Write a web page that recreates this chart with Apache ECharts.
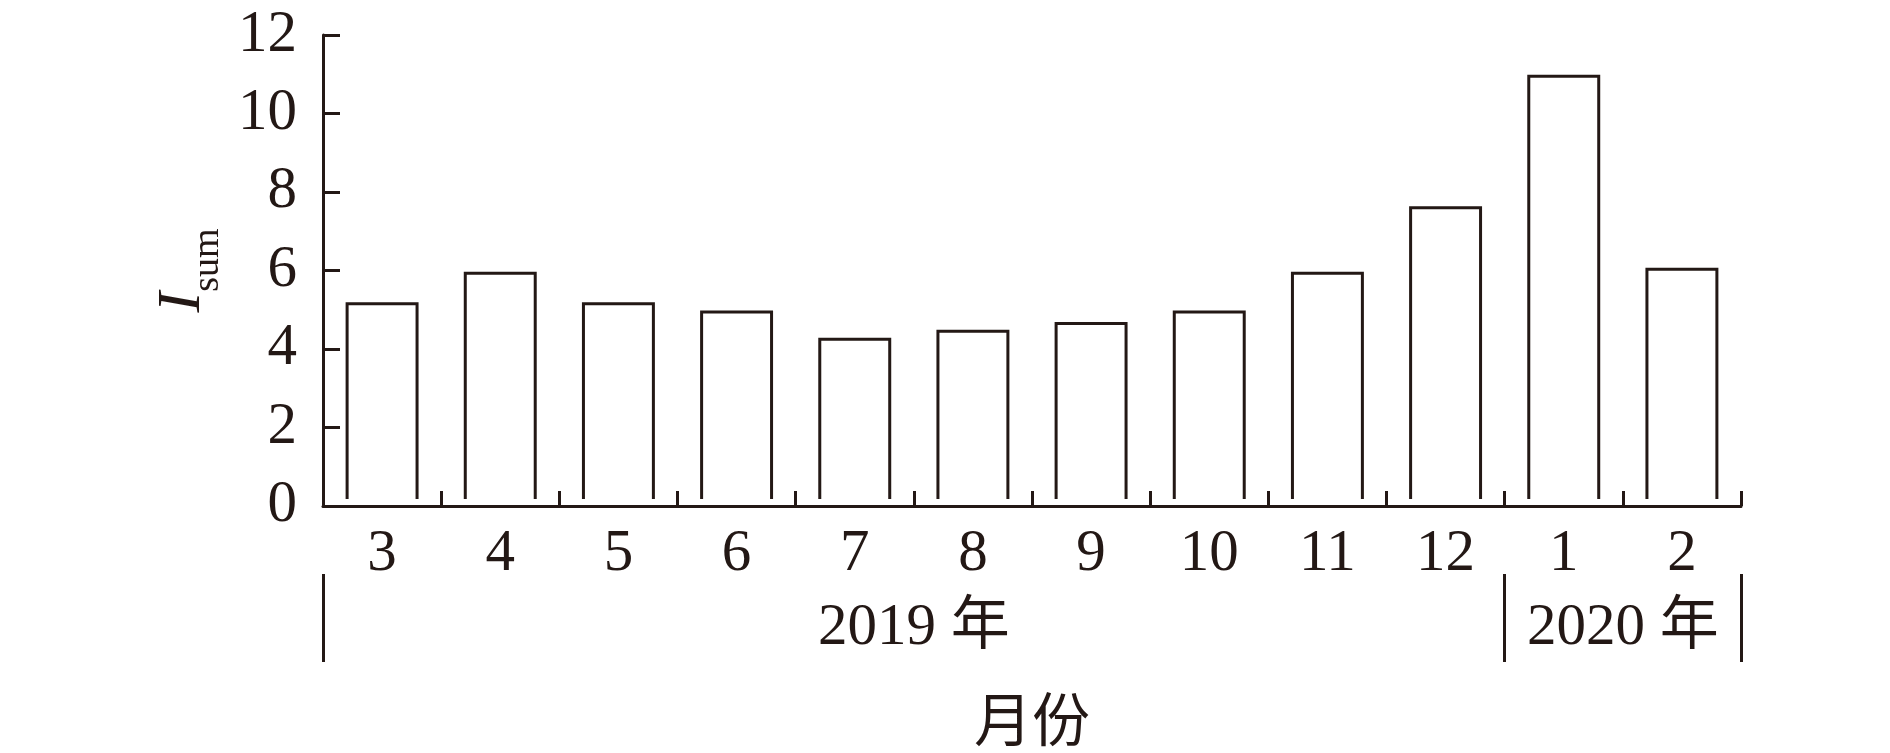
<!DOCTYPE html>
<html>
<head>
<meta charset="utf-8">
<script src="https://cdn.jsdelivr.net/npm/echarts@6/dist/echarts.min.js"></script>
<style>
html,body{margin:0;padding:0;background:#fff;}
#chart{width:1890px;height:753px;}
</style>
</head>
<body>
<div id="chart"></div>
<script>
// ---- data ----
const months = ['3','4','5','6','7','8','9','10','11','12','1','2'];
const monthYears = [2019,2019,2019,2019,2019,2019,2019,2019,2019,2019,2020,2020];
const values = [5.15, 5.93, 5.15, 4.94, 4.25, 4.45, 4.65, 4.94, 5.93, 7.6, 10.95, 6.03];
const yearLabels = ['2019 年', '2020 年'];
const yMin = 0, yMax = 12, yInterval = 2;
const xName = '月份';

// ---- derived year spans ----
const bounds = [0];
for (let i = 1; i < monthYears.length; i++) if (monthYears[i] !== monthYears[i-1]) bounds.push(i);
bounds.push(monthYears.length);
const centers = [];
for (let k = 0; k < bounds.length - 1; k++) centers.push((bounds[k] + bounds[k+1]) / 2);

const INK = '#231815';
const SERIF = "'Liberation Serif', 'Times New Roman', 'Noto Sans CJK SC', serif";

const chart = echarts.init(document.getElementById('chart'), null, {renderer: 'canvas'});
chart.setOption({
  backgroundColor: '#fff',
  animation: false,
  grid: {left: 323, right: 149, top: 35, bottom: 246},
  xAxis: [{
    type: 'category',
    data: months,
    boundaryGap: true,
    axisLine: {show: true, lineStyle: {color: INK, width: 3}},
    axisTick: {show: true, inside: true, length: 15, alignWithLabel: false, lineStyle: {color: INK, width: 3}},
    axisLabel: {color: INK, fontFamily: SERIF, fontSize: 59, lineHeight: 59, margin: 19},
    splitLine: {show: false},
    name: xName,
    nameLocation: 'middle',
    nameGap: 184,
    nameTextStyle: {color: INK, fontFamily: "'Noto Sans CJK SC', sans-serif", fontSize: 58, lineHeight: 58}
  }, {
    type: 'value',
    min: 0,
    max: months.length,
    position: 'bottom',
    offset: 68,
    axisLine: {show: false},
    axisTick: {show: true, inside: false, length: 88, customValues: bounds, lineStyle: {color: INK, width: 3}},
    axisLabel: {
      show: true, customValues: centers, color: INK, fontFamily: SERIF, fontSize: 59, lineHeight: 59, margin: 25,
      formatter: function (v) { const k = centers.indexOf(v); return k >= 0 ? yearLabels[k] : ''; }
    },
    splitLine: {show: false}
  }],
  yAxis: {
    type: 'value',
    min: yMin, max: yMax, interval: yInterval,
    axisLine: {show: true, lineStyle: {color: INK, width: 3}},
    axisTick: {show: true, inside: true, length: 17, lineStyle: {color: INK, width: 3}},
    axisLabel: {color: INK, fontFamily: SERIF, fontSize: 59, lineHeight: 59, margin: 26},
    splitLine: {show: false},
    name: '{i|I}{s|sum}',
    nameLocation: 'middle',
    nameRotate: 90,
    nameGap: 106,
    nameTextStyle: {
      color: INK,
      rich: {
        i: {fontFamily: SERIF, fontStyle: 'italic', fontSize: 62, lineHeight: 62, verticalAlign: 'top', color: INK},
        s: {fontFamily: SERIF, fontSize: 38, lineHeight: 38, padding: [37, 0, 0, 0], verticalAlign: 'top', color: INK}
      }
    }
  },
  series: [{
    type: 'custom',
    xAxisIndex: 0,
    yAxisIndex: 0,
    data: values.map((v, i) => [i, v]),
    encode: {x: 0, y: 1},
    renderItem: function (params, api) {
      const i = api.value(0), v = api.value(1);
      const top = api.coord([i, v]);
      const base = api.coord([i, 0]);
      const w = api.size([1, 0])[0] * 0.592;
      const lift = 7;
      return {
        type: 'polyline',
        shape: {points: [
          [top[0] - w / 2, base[1] - lift],
          [top[0] - w / 2, top[1]],
          [top[0] + w / 2, top[1]],
          [top[0] + w / 2, base[1] - lift]
        ]},
        style: {fill: null, stroke: INK, lineWidth: 3}
      };
    }
  }]
});
</script>
</body>
</html>
